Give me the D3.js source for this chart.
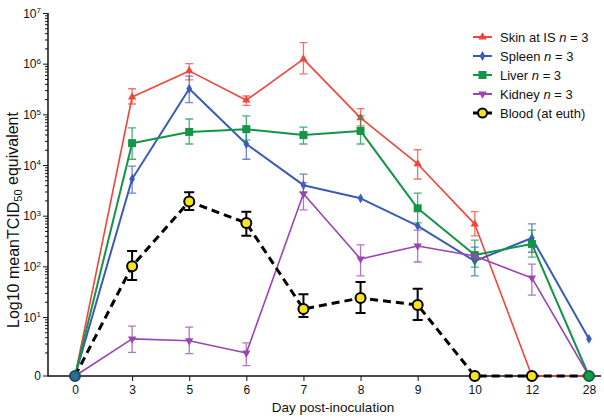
<!DOCTYPE html>
<html>
<head>
<meta charset="utf-8">
<script src="https://cdn.jsdelivr.net/npm/d3@7"></script>
<style>
  html, body { margin: 0; padding: 0; background: #fff; }
  svg { display: block; font-family: "Liberation Sans", Arial, sans-serif; }
  .tick text { font-size: 12px; fill: #111; }
  .legend text { font-size: 13px; fill: #111; }
</style>
</head>
<body>
<svg id="chart"></svg>
<script>
const days = ['0', '3', '5', '6', '7', '8', '9', '10', '12', '28'];

const skin   = [0, 2.2e5, 7.2e5, 1.9e5, 1.23e6, 8.5e4, 1.05e4, 680, 0, 0];
const skinHi = [null, 3.2e5, 1.0e6, 2.3e5, 2.6e6, 1.3e5, 2.0e4, 1.2e3, null, null];
const skinLo = [null, 1.6e5, 4.8e5, 1.5e5, 6.3e5, 5.9e4, 5.3e3, 400, null, null];

const spleen   = [0, 5.3e3, 3.2e5, 2.6e4, 4.0e3, 2.2e3, 630, 127, 363, 3.7];
const spleenHi = [null, 9.5e3, 5.7e5, 4.9e4, 6.6e3, null, null, 240, 690, null];
const spleenLo = [null, 2.8e3, 1.7e5, 1.3e4, 2.9e3, null, null, 65, 190, null];

const liver   = [0, 2.7e4, 4.5e4, 5.1e4, 3.9e4, 4.7e4, 1.4e3, 167, 277, 0];
const liverHi = [null, 5.4e4, 8.1e4, 9.3e4, 5.6e4, 9.3e4, 2.8e3, 330, 520, null];
const liverLo = [null, 1.3e4, 2.6e4, 3.1e4, 2.6e4, 2.6e4, 720, 97, 152, null];

const kidney   = [0, 3.7, 3.4, 1.95, 2.7e3, 140, 252, 160, 59, 0];
const kidneyHi = [null, 6.6, 6.3, 3.1, 4.5e3, 265, 520, null, 111, null];
const kidneyLo = [null, 2.0, 1.9, 1.1, 1.3e3, 65, 122, null, 27, null];

const blood   = [0, 101, 1.9e3, 717, 14.4, 23.7, 17.3, 0, 0, 0];
const bloodHi = [null, 200, 2.9e3, 1.2e3, 28, 49, 36, null, null, null];
const bloodLo = [null, 54, 1.3e3, 400, 10, 12, 8.7, null, null, null];

const legendNames = ['Skin at IS', 'Spleen', 'Liver', 'Kidney', 'Blood (at euth)'];
const legendN = ['3', '3', '3', '3', null];

const width = 604;
const height = 419;
const axisX = 48;
const axisY = 376;

const svg = d3.select('#chart')
    .attr('width', width)
    .attr('height', height);

const xScale = d3.scalePoint()
    .domain(days)
    .range([75, 589]);

const yScale = d3.scaleLog()
    .domain([1, 1e7])
    .range([367.7, 13]);

// zero sits on the x axis, below the log range
const yPos = v => v > 0 ? yScale(v) : axisY;

const series = [
    { name: 'skin', values: skin, hi: skinHi, lo: skinLo, color: '#f0453a', width: 1.6, symbol: d3.symbolTriangle, size: 30, rotate: 0 },
    { name: 'spleen', values: spleen, hi: spleenHi, lo: spleenLo, color: '#3a5cb8', width: 2, symbol: d3.symbolDiamond, size: 28, rotate: 0 },
    { name: 'liver', values: liver, hi: liverHi, lo: liverLo, color: '#149447', width: 2, symbol: d3.symbolSquare, size: 64, rotate: 0 },
    { name: 'kidney', values: kidney, hi: kidneyHi, lo: kidneyLo, color: '#9a45b2', width: 1.6, symbol: d3.symbolTriangle, size: 30, rotate: 180 }
];

// y axis: log ticks, majors labelled as powers of ten
const logTicks = yScale.ticks().filter(d => d >= 2);
const isMajor = d => Math.abs(Math.log10(d) - Math.round(Math.log10(d))) < 1e-9;

const yAxisG = svg.append('g')
    .classed('yAxis', true)
    .attr('transform', `translate(${axisX},0)`)
    .call(d3.axisLeft(yScale).tickValues(logTicks).tickFormat(''));

yAxisG.select('.domain').remove();
yAxisG.selectAll('.tick line')
    .attr('x2', d => isMajor(d) ? -5 : -3)
    .attr('stroke', '#111')
    .attr('stroke-width', 1);

yAxisG.selectAll('.tick')
    .filter(d => isMajor(d))
    .append('text')
    .attr('x', -7)
    .attr('dy', '0.35em')
    .attr('text-anchor', 'end')
    .attr('fill', '#111')
    .style('font-size', '12px')
    .call(t => {
        t.append('tspan').text('10');
        t.append('tspan')
            .attr('dy', '-0.55em')
            .style('font-size', '8px')
            .text(d => Math.round(Math.log10(d)));
    });

// zero tick
svg.append('line')
    .attr('x1', axisX - 5).attr('x2', axisX)
    .attr('y1', axisY).attr('y2', axisY)
    .attr('stroke', '#111');
svg.append('text')
    .attr('x', axisX - 7)
    .attr('y', axisY)
    .attr('dy', '0.35em')
    .attr('text-anchor', 'end')
    .style('font-size', '12px')
    .attr('fill', '#111')
    .text('0');

svg.append('line')
    .attr('x1', axisX).attr('x2', axisX)
    .attr('y1', yScale(1e7)).attr('y2', axisY + 0.5)
    .attr('stroke', '#111')
    .attr('stroke-width', 1.5);

// x axis
const xAxisG = svg.append('g')
    .classed('xAxis', true)
    .attr('transform', `translate(0,${axisY})`)
    .call(d3.axisBottom(xScale).tickSize(5).tickPadding(4));

xAxisG.select('.domain').remove();
xAxisG.selectAll('.tick line').attr('stroke', '#111');

svg.append('line')
    .attr('x1', axisX).attr('x2', 601)
    .attr('y1', axisY).attr('y2', axisY)
    .attr('stroke', '#111')
    .attr('stroke-width', 1.5);

svg.append('text')
    .attr('x', 333)
    .attr('y', 412)
    .attr('text-anchor', 'middle')
    .style('font-size', '13.5px')
    .attr('fill', '#111')
    .text('Day post-inoculation');

const yLabel = svg.append('text')
    .attr('transform', 'translate(19,220) rotate(-90)')
    .attr('text-anchor', 'middle')
    .style('font-size', '16px')
    .attr('fill', '#111');
yLabel.append('tspan').text('Log10 meanTCID');
yLabel.append('tspan').attr('dy', '0.3em').style('font-size', '11px').text('50');
yLabel.append('tspan').attr('dy', '-0.3em').text(' equivalent');

// series
const idx = d3.range(days.length);
const line = vals => d3.line()
    .x(i => xScale(days[i]))
    .y(i => yPos(vals[i]))(idx);

const plot = svg.append('g').classed('plot', true);

series.forEach(s => {
    const g = plot.append('g').classed(s.name, true);

    g.append('path')
        .attr('d', line(s.values))
        .attr('fill', 'none')
        .attr('stroke', s.color)
        .attr('stroke-width', s.width)
        .attr('stroke-linejoin', 'round');

    const bars = idx.filter(i => s.hi[i] != null);
    g.selectAll('.err')
        .data(bars)
        .join('path')
            .classed('err', true)
            .attr('d', i => {
                const cx = xScale(days[i]);
                const y1 = yPos(s.hi[i]);
                const y2 = yPos(s.lo[i]);
                return `M${cx},${y1}V${y2}M${cx - 4},${y1}H${cx + 4}M${cx - 4},${y2}H${cx + 4}`;
            })
            .attr('fill', 'none')
            .attr('stroke', s.color)
            .attr('stroke-opacity', 0.75)
            .attr('stroke-width', 1.3);

    g.selectAll('.pt')
        .data(idx)
        .join('path')
            .classed('pt', true)
            .attr('d', d3.symbol(s.symbol, s.size))
            .attr('transform', i => `translate(${xScale(days[i])},${yPos(s.values[i])}) rotate(${s.rotate})`)
            .attr('fill', s.color);
});

// blood
const bg = plot.append('g').classed('blood', true);
bg.append('path')
    .attr('d', line(blood))
    .attr('fill', 'none')
    .attr('stroke', '#000')
    .attr('stroke-width', 3)
    .attr('stroke-dasharray', '8,5');

bg.selectAll('.err')
    .data(idx.filter(i => bloodHi[i] != null))
    .join('path')
        .classed('err', true)
        .attr('d', i => {
            const cx = xScale(days[i]);
            const y1 = yPos(bloodHi[i]);
            const y2 = yPos(bloodLo[i]);
            return `M${cx},${y1}V${y2}M${cx - 5},${y1}H${cx + 5}M${cx - 5},${y2}H${cx + 5}`;
        })
        .attr('fill', 'none')
        .attr('stroke', '#000')
        .attr('stroke-width', 2);

// points at day 0 and 28 show the overlapping series colours
const overlapFill = { '0': '#2b6f90', '28': '#169a4c' };
const overlapStroke = { '0': '#1d4a60', '28': '#0d6a33' };

bg.selectAll('.pt')
    .data(idx)
    .join('circle')
        .classed('pt', true)
        .attr('cx', i => xScale(days[i]))
        .attr('cy', i => yPos(blood[i]))
        .attr('r', 5)
        .attr('fill', i => overlapFill[days[i]] || '#f7e51c')
        .attr('stroke', i => overlapStroke[days[i]] || '#000')
        .attr('stroke-width', 2);

// legend
const legendColors = ['#f0453a', '#3a5cb8', '#149447', '#9a45b2', '#000'];
const legend = svg.append('g').classed('legend', true);

legendNames.forEach((name, i) => {
    const cy = 37 + i * 19;
    const g = legend.append('g').attr('transform', `translate(0,${cy})`);
    g.append('line')
        .attr('x1', 473).attr('x2', 492)
        .attr('stroke', legendColors[i])
        .attr('stroke-width', i === 4 ? 3 : 2);
    if (i < 4) {
        const s = series[i];
        g.append('path')
            .attr('d', d3.symbol(s.symbol, s.size))
            .attr('transform', `translate(482.5,0) rotate(${s.rotate})`)
            .attr('fill', s.color);
    } else {
        g.append('circle')
            .attr('cx', 482.5).attr('r', 4.5)
            .attr('fill', '#f7e51c')
            .attr('stroke', '#000')
            .attr('stroke-width', 2);
    }
    const t = g.append('text')
        .attr('x', 500)
        .attr('dy', '0.36em');
    t.append('tspan').text(name);
    if (legendN[i]) {
        t.append('tspan').text(' ');
        t.append('tspan').style('font-style', 'italic').text('n');
        t.append('tspan').text(` = ${legendN[i]}`);
    }
});
</script>
</body>
</html>
